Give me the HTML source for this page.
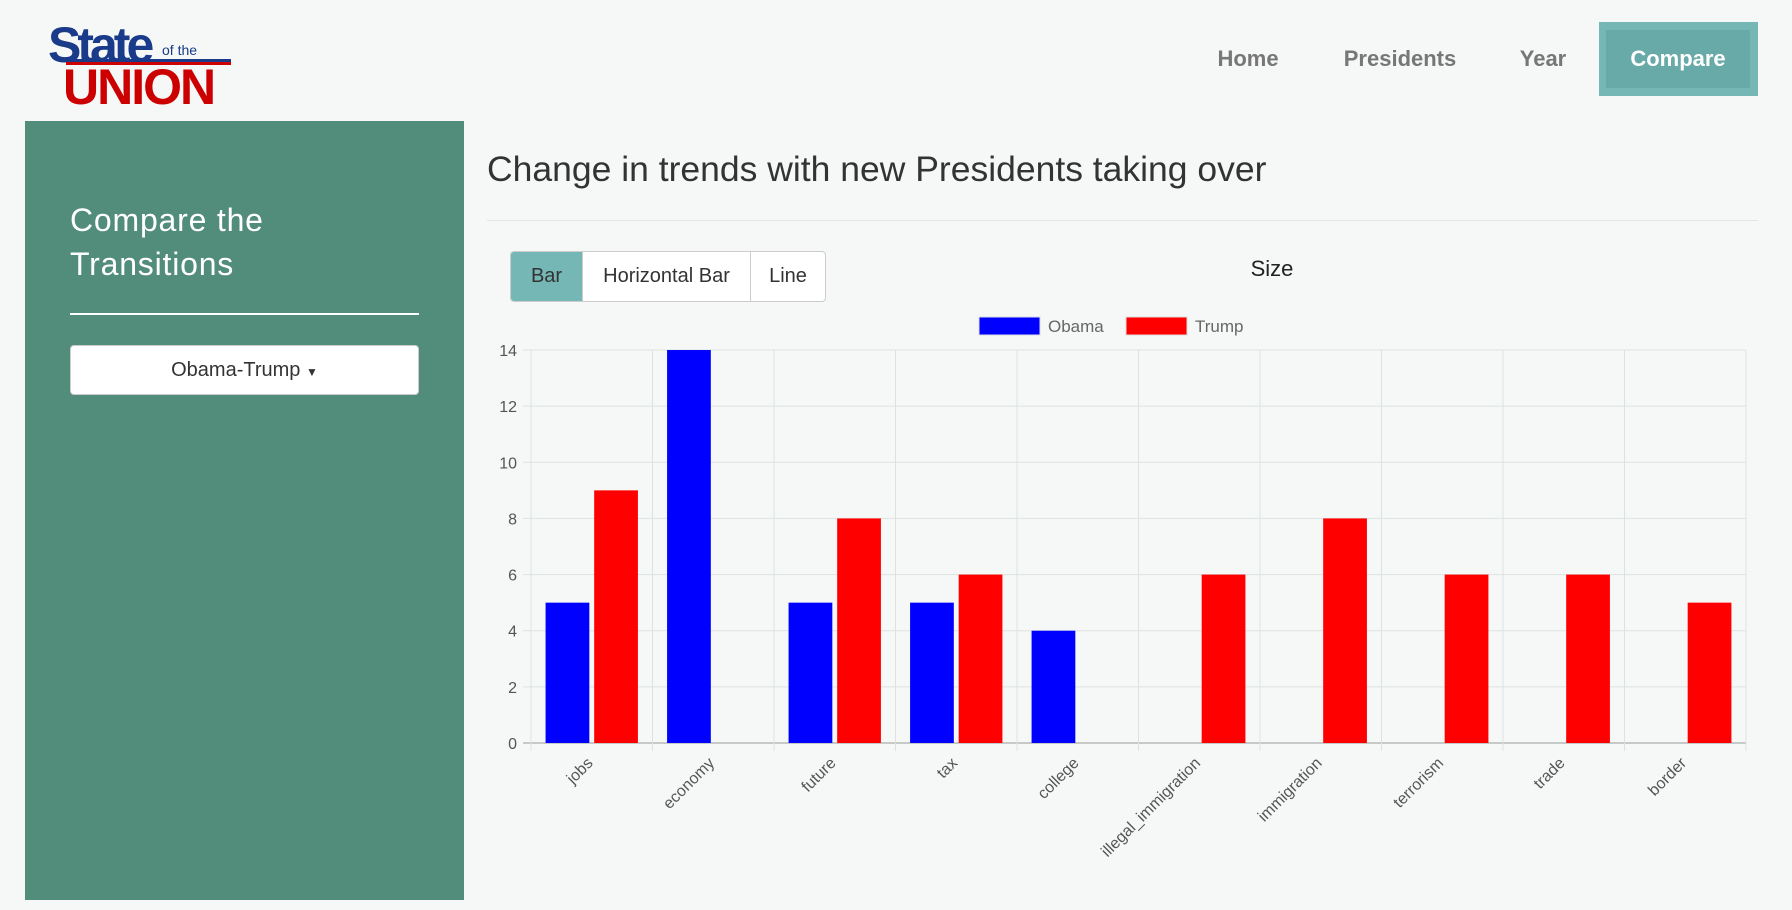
<!DOCTYPE html>
<html><head><meta charset="utf-8">
<style>
body{margin:0;width:1792px;height:910px;background:#f5f8f7;font-family:"Liberation Sans",sans-serif;position:relative;overflow:hidden}
.a{position:absolute}
.nav{font-size:22px;font-weight:bold;color:#777;transform:translate(-50%,-50%)}
</style></head><body>
<div class="a" style="left:48px;top:16px;width:185px;height:90px">
<div class="a" style="left:0;top:0;font:bold 50px 'Liberation Sans',sans-serif;color:#1a3a8a;letter-spacing:-4px">State</div>
<div class="a" style="left:114px;top:26px;font:14px 'Liberation Sans',sans-serif;color:#1a3a8a">of the</div>
<div class="a" style="left:18px;top:43px;width:165px;height:3px;background:#1a3a8a"></div>
<div class="a" style="left:18px;top:46px;width:165px;height:3px;background:#c00"></div>
<div class="a" style="left:15px;top:42px;font:bold 50px 'Liberation Sans',sans-serif;color:#c00;letter-spacing:-2px">UNION</div>
</div>
<div class="a nav" style="left:1248px;top:59px">Home</div>
<div class="a nav" style="left:1400px;top:59px">Presidents</div>
<div class="a nav" style="left:1543px;top:59px">Year</div>
<div class="a" style="left:1599px;top:22px;width:159px;height:74px;background:#75b7b5">
<div class="a" style="left:7px;top:8px;width:144px;height:58px;background:#68aaa8;color:#fff;font-size:22px;font-weight:bold;text-align:center;line-height:58px">Compare</div></div>

<div class="a" style="left:25px;top:121px;width:439px;height:779px;background:#528c7a">
<div class="a" style="left:45px;top:77px;color:#fff;font-size:32px;line-height:44px;letter-spacing:0.8px">Compare the<br>Transitions</div>
<div class="a" style="left:45px;top:192px;width:349px;height:2px;background:#fff"></div>
<div class="a" style="left:45px;top:224px;width:347px;height:48px;background:#fff;border:1px solid #ccc;border-radius:4px;text-align:center;line-height:48px;font-size:20px;color:#333">Obama-Trump <span style="font-size:12px">▼</span></div>
</div>

<div class="a" style="left:487px;top:149px;font-size:35.5px;color:#333">Change in trends with new Presidents taking over</div>
<div class="a" style="left:487px;top:220px;width:1271px;height:1px;background:#e3e6e5"></div>

<div class="a" style="left:510px;top:251px;width:314px;height:49px;border:1px solid #ccc;border-radius:4px;background:#fff;overflow:hidden;font-size:20px;color:#333">
<div class="a" style="left:0;top:0;width:71px;height:49px;background:#75b7b5;line-height:49px;text-align:center;border-right:1px solid #ccc">Bar</div>
<div class="a" style="left:72px;top:0;width:167px;height:49px;line-height:49px;text-align:center;border-right:1px solid #ccc">Horizontal Bar</div>
<div class="a" style="left:240px;top:0;width:74px;height:49px;line-height:49px;text-align:center">Line</div>
</div>

<svg class="a" style="left:0;top:0" width="1792" height="910" font-family="Liberation Sans, sans-serif">
<text x="1272" y="276" font-size="22" text-anchor="middle" fill="#222">Size</text>
<g id="g"></g>
</svg>
<script>
const categories=["jobs","economy","future","tax","college","illegal_immigration","immigration","terrorism","trade","border"];
const obama=[5,14,5,5,4,0,0,0,0,0];
const trump=[9,0,8,6,0,6,8,6,6,5];
const yTicks=[0,2,4,6,8,10,12,14];
const seriesNames=["Obama","Trump"];
const colors=["#0000ff","#ff0000"];
const L=531,R=1746,T=350,B=743,yMax=14;
const ns="http://www.w3.org/2000/svg";
const g=document.getElementById('g');
function mk(t,a){const e=document.createElementNS(ns,t);for(const k in a)e.setAttribute(k,a[k]);g.appendChild(e);return e;}
const y=v=>B-(v/yMax)*(B-T);
const cw=(R-L)/categories.length;
const xc=i=>L+cw*(i+0.5);
yTicks.forEach(v=>{
 const l=mk('line',{x1:L-8,x2:R,y1:y(v),y2:y(v),stroke:v===0?'#999':'#dde2e0'});
 
 const t=mk('text',{x:L-14,y:y(v)+6,'text-anchor':'end','font-size':16,fill:'#555'});t.textContent=v;
 
});
for(let i=0;i<=categories.length;i++){
 const l=mk('line',{x1:L+cw*i,x2:L+cw*i,y1:T,y2:B+8,stroke:'#dde2e0'});
 
}
const bw=cw*0.8*0.45;
categories.forEach((c,i)=>{
 [obama,trump].forEach((s,k)=>{
  if(!s[i])return;
  const x=xc(i)-cw*0.4+cw*0.4*k+(cw*0.4-bw)/2;
  const r=mk('rect',{x:x,y:y(s[i]),width:bw,height:B-y(s[i]),fill:colors[k]});
  
  
 });
 const t=mk('text',{x:xc(i)+2,y:B+21,'text-anchor':'end','font-size':16,fill:'#555',transform:`rotate(-45 ${xc(i)+2} ${B+21})`});
 t.textContent=c;
 
});
const lx=[979,1126];
seriesNames.forEach((n,k)=>{
 const r=mk('rect',{x:lx[k],y:317,width:61,height:18,fill:colors[k],stroke:'#ddd'});
 
 const t=mk('text',{x:lx[k]+69,y:332,'font-size':17,fill:'#666'});t.textContent=n;
 
});
</script>
</body></html>
